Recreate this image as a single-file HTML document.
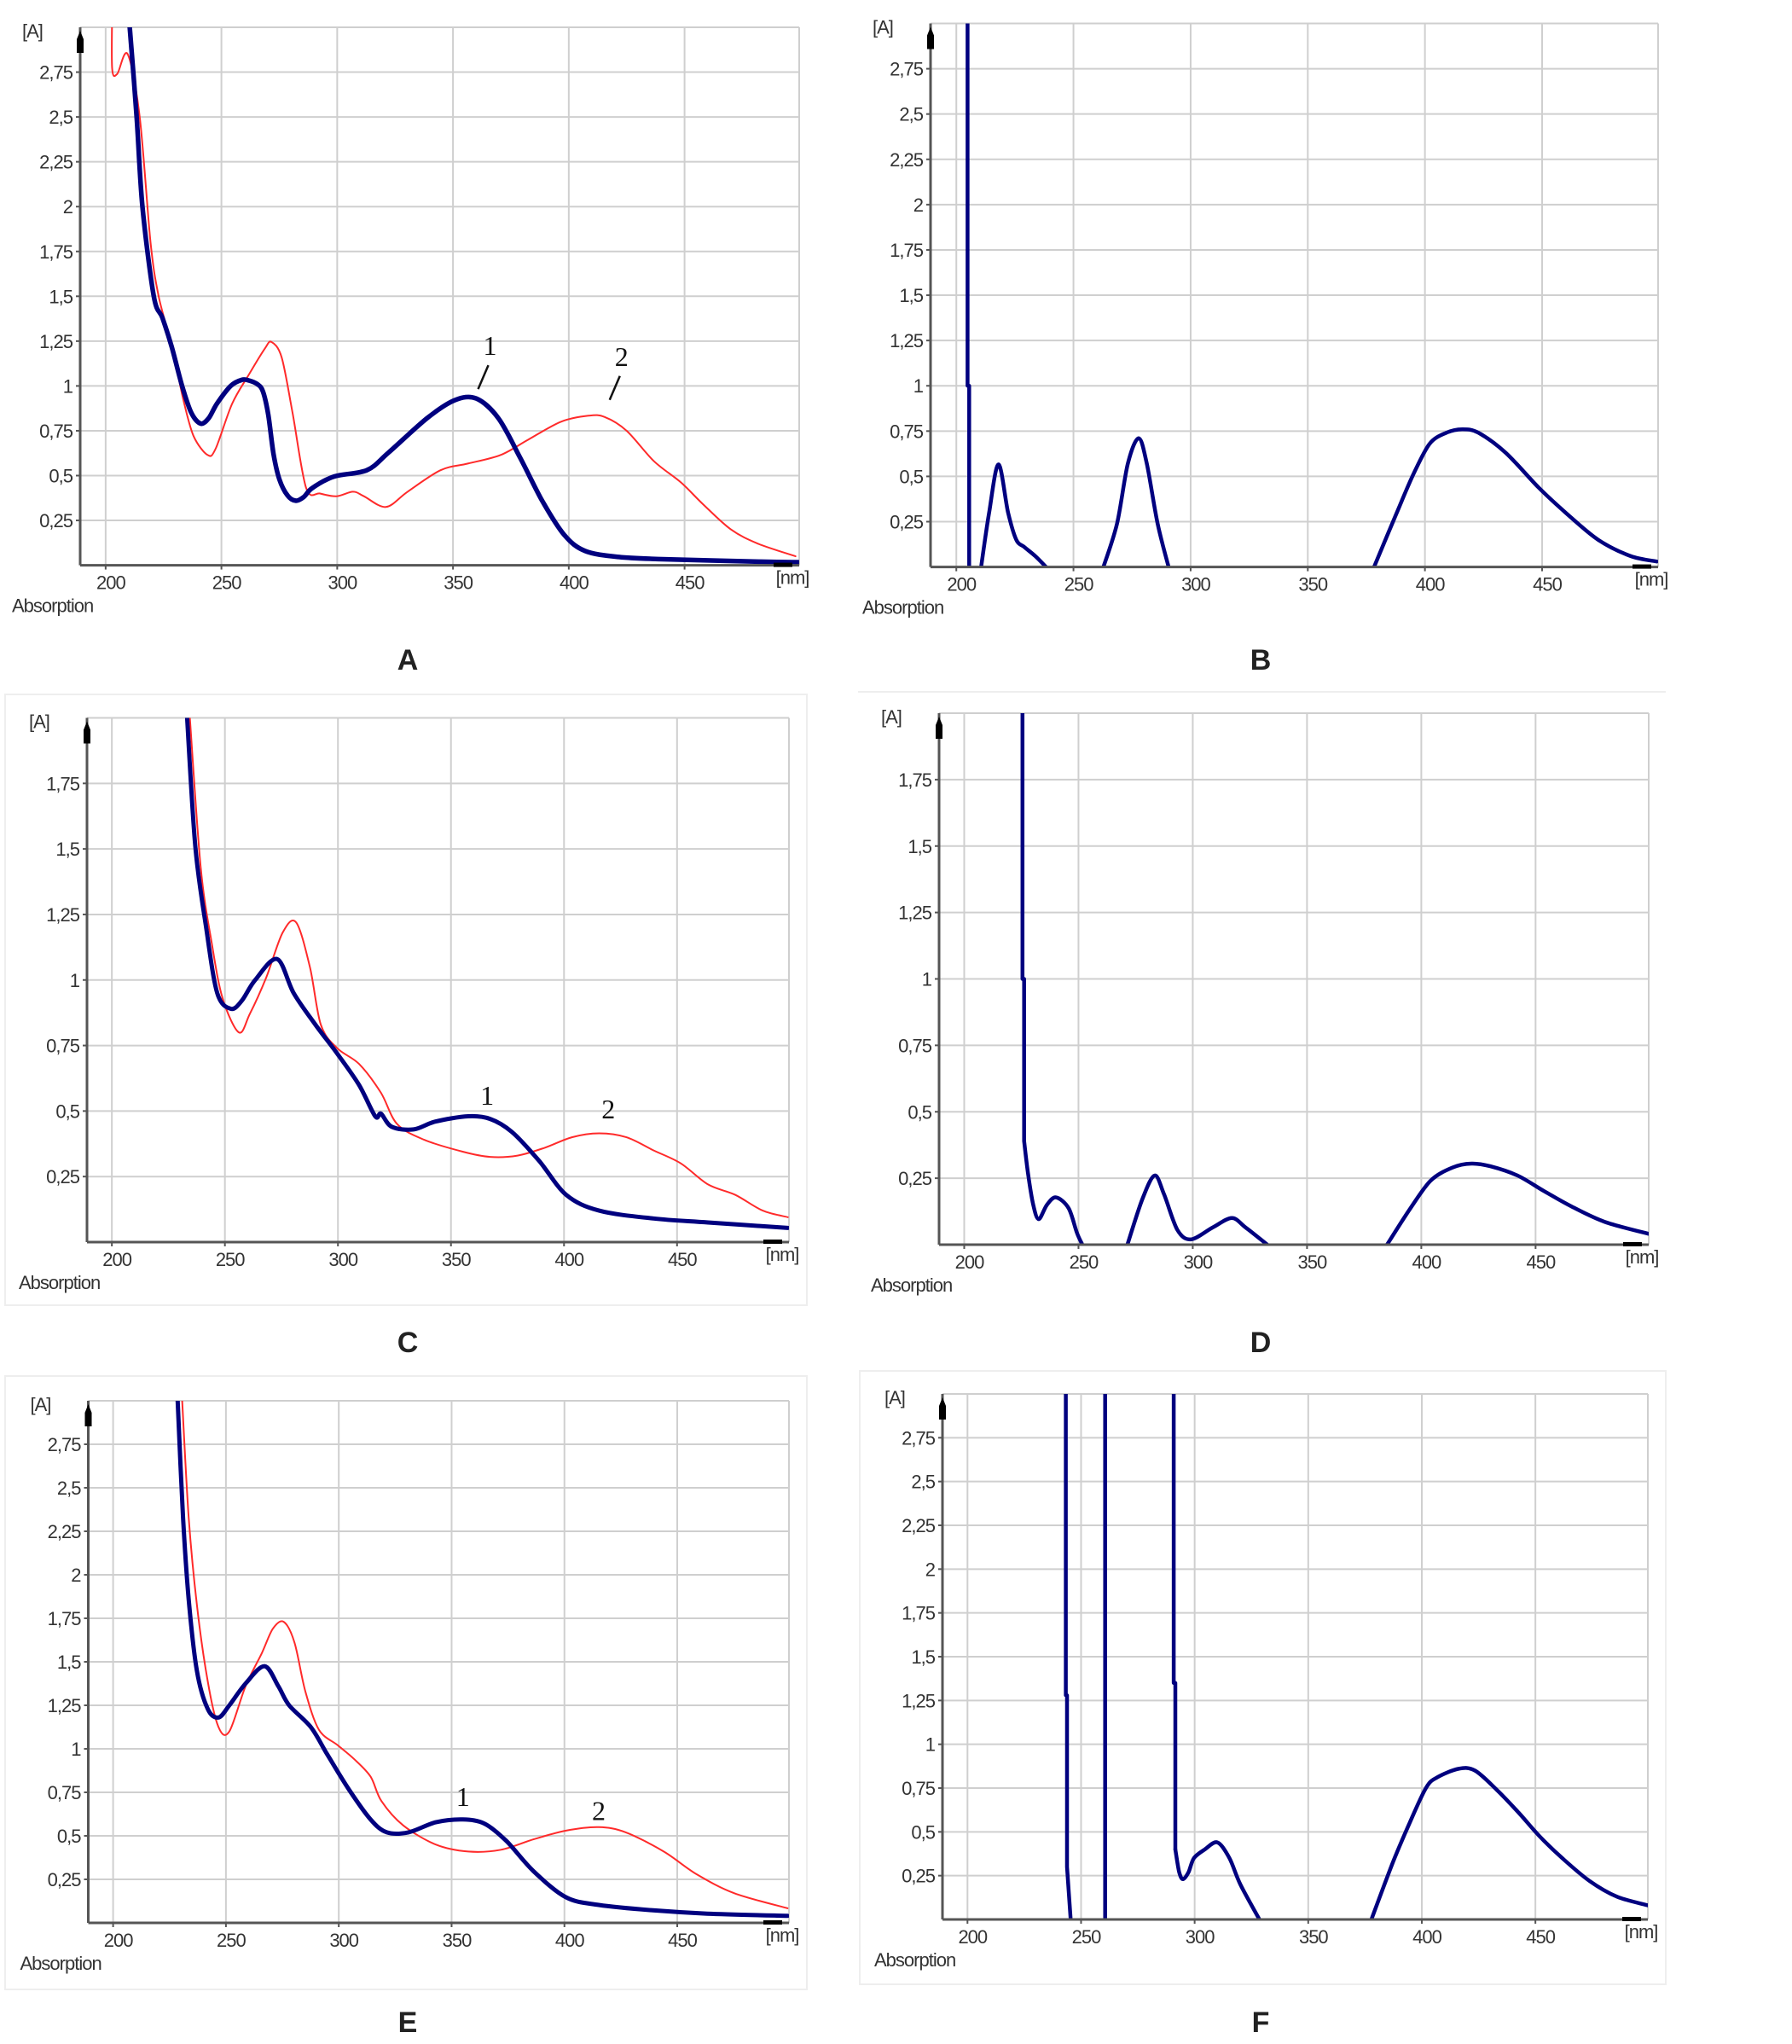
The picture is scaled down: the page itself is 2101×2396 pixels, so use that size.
<!DOCTYPE html>
<html><head><meta charset="utf-8"><style>
html,body{margin:0;padding:0;background:#fff;}
svg{display:block;}
.tk{font-family:"Liberation Sans",sans-serif;font-size:22px;fill:#333;letter-spacing:-1px;}
.pl{font-family:"Liberation Sans",sans-serif;font-size:34px;font-weight:bold;fill:#222;}
.an{font-family:"Liberation Serif",serif;font-size:32px;fill:#111;}
</style></head><body>
<svg id="fig" width="2101" height="2396" viewBox="0 0 2101 2396" xmlns="http://www.w3.org/2000/svg">
<rect x="6" y="814" width="940" height="716" fill="none" stroke="#eee" stroke-width="2"/>
<rect x="6" y="1613" width="940" height="719" fill="none" stroke="#eee" stroke-width="2"/>
<rect x="1008" y="1607" width="945" height="719" fill="none" stroke="#eee" stroke-width="2"/>
<line x1="1006" y1="811" x2="1953" y2="811" stroke="#eee" stroke-width="2"/>
</svg>
<script>
// ---- tick labels ----
const xTicks = [200, 250, 300, 350, 400, 450];
const yTicks3 = [0.25, 0.5, 0.75, 1, 1.25, 1.5, 1.75, 2, 2.25, 2.5, 2.75];
const yTicks2 = [0.25, 0.5, 0.75, 1, 1.25, 1.5, 1.75];

// ---- Panel A ----
const aBlueNm  = [210.4,213.4,215.9,220.8,224.5,228.5,233,237,241,244.5,248,254,258.8,262,265.5,267.9,270.2,272.5,275,278.5,282,285.5,289.2,298.6,312.8,322.3,338.8,350.7,360,369.6,379,388.5,398,407,421.6,440.5,483,499];
const aBlueAbs = [3.0,2.5,2.0,1.5,1.38,1.22,1.0,0.85,0.79,0.82,0.9,1.0,1.034,1.03,1.01,0.97,0.84,0.62,0.48,0.39,0.36,0.38,0.43,0.495,0.53,0.63,0.82,0.92,0.93,0.82,0.6,0.36,0.17,0.08,0.046,0.034,0.02,0.017];
const aRedNm   = [202.8,202.8,205,209.5,214.7,219.4,222.9,228.8,233.6,238,244,247.5,254.6,261.7,268.8,271.6,276,280.7,286.6,292.6,299.7,306.8,311.5,321,330.4,344.6,356.4,370.6,382.4,396.6,408.5,415.5,425,436.8,448.6,458,470,481.8,497.9];
const aRedAbs  = [3.1,2.77,2.74,2.85,2.5,1.8,1.5,1.21,0.92,0.72,0.615,0.65,0.9,1.06,1.21,1.245,1.16,0.85,0.43,0.4,0.385,0.41,0.385,0.325,0.41,0.53,0.567,0.615,0.70,0.80,0.834,0.827,0.75,0.58,0.46,0.34,0.2,0.12,0.05];

// ---- Panel B ----
const bSeg1Nm  = [204.8,204.8,205.5,205.5];
const bSeg1Abs = [3.1,1.0,1.0,-0.1];
const bSeg2Nm  = [210.6,214,218,222.1,225.6,229,233.7,238.3];
const bSeg2Abs = [0,0.3,0.566,0.3,0.15,0.11,0.06,0];
const bSeg3Nm  = [262.8,268.6,273.2,277.8,281.3,285.9,290.6];
const bSeg3Abs = [0,0.24,0.57,0.71,0.57,0.24,0];
const bSeg4Nm  = [378.3,388,395,402,409,415.9,422.9,434.5,448.4,460,473.9,487.8,498.9];
const bSeg4Abs = [0,0.3,0.51,0.68,0.74,0.76,0.74,0.63,0.44,0.3,0.15,0.06,0.03];

// ---- Panel C ----
const cBlueNm  = [233.3,236.9,241.7,246.6,252.6,257.4,263.4,273.1,280.4,290,299.6,309.3,316.5,319,323.8,333.5,343.1,357.6,367.3,377,389,401,415.5,439.6,463.7,499];
const cBlueAbs = [2.0,1.51,1.2,0.95,0.89,0.92,1.0,1.08,0.95,0.83,0.72,0.6,0.48,0.49,0.44,0.43,0.46,0.48,0.47,0.42,0.31,0.18,0.12,0.09,0.075,0.054];
const cRedNm   = [234.5,239.3,244.2,249,256.2,261,268.3,275.5,281.5,287.6,292.4,299.6,309.3,319,326.2,338.3,355.2,367.3,379.4,391.5,403.5,415.5,427.6,439.6,451.7,463.7,475.8,487.9,499];
const cRedAbs  = [2.0,1.43,1.14,0.93,0.8,0.87,1.01,1.18,1.22,1.05,0.83,0.74,0.68,0.57,0.45,0.39,0.345,0.325,0.33,0.36,0.4,0.415,0.4,0.35,0.3,0.22,0.18,0.12,0.095];

// ---- Panel D ----
const dSeg1Nm  = [225.5,225.5,226.2,226.2];
const dSeg1Abs = [2.1,1.0,1.0,0.39];
const dSeg1bNm  = [226.2,227.9,230.2,232.6,236.2,240.2,245.7,249.3,251.7];
const dSeg1bAbs = [0.39,0.27,0.15,0.096,0.15,0.178,0.137,0.045,0];
const dSeg2Nm  = [271.4,277.9,283.3,287.4,293.3,299.3,308.8,317.1,323.1,332.6];
const dSeg2Abs = [0,0.17,0.26,0.19,0.055,0.02,0.065,0.1,0.065,0];
const dSeg3Nm  = [385,394.5,404,413.6,421.9,430.2,442.1,454,465.9,480.2,499.3];
const dSeg3Abs = [0,0.127,0.24,0.29,0.305,0.295,0.26,0.2,0.143,0.086,0.041];

// ---- Panel E ----
const eBlueNm  = [228.6,231,233.5,237.1,241.9,246.7,251.5,258.7,267.1,273.2,278,287.6,294.8,304.5,314.1,321.3,330.9,343,355,364.6,374.3,386.3,400.7,415.2,439.2,463.3,498.9];
const eBlueAbs = [3.0,2.33,1.86,1.45,1.23,1.18,1.25,1.375,1.475,1.36,1.25,1.125,0.97,0.766,0.594,0.52,0.52,0.578,0.594,0.57,0.47,0.297,0.147,0.103,0.072,0.053,0.04];
const eRedNm   = [230.6,233.5,237.1,241.9,246.7,251.5,258.7,265.9,270.8,275.6,280.4,285.2,291.2,299.6,306.9,314.1,318.9,328.6,343,357.4,371.9,386.3,400.7,415.2,427.2,444,458.5,475.3,498.9];
const eRedAbs  = [3.0,2.33,1.83,1.39,1.125,1.1,1.36,1.55,1.69,1.73,1.61,1.33,1.11,1.02,0.94,0.84,0.7,0.56,0.45,0.41,0.42,0.48,0.53,0.55,0.52,0.41,0.28,0.17,0.084];

// ---- Panel F ----
const fSeg1Nm  = [243.3,243.3,243.8,243.8,245.7];
const fSeg1Abs = [3.1,1.28,1.28,0.3,-0.05];
const fSeg2Nm  = [260.6,260.6];
const fSeg2Abs = [3.1,-0.1];
const fSeg3Nm  = [290.8,290.8,291.5,291.5];
const fSeg3Abs = [3.1,1.35,1.35,0.4];
const fSeg3bNm  = [291.5,293.2,294.9,297.3,299.7,304.5,310,315.3,320.1,328.5];
const fSeg3bAbs = [0.4,0.27,0.23,0.27,0.35,0.4,0.44,0.35,0.2,0];
const fSeg4Nm  = [377.8,387.4,394.6,401.8,406.6,416.2,423.4,433,442.6,452.2,461.8,473.8,485.9,499.7];
const fSeg4Abs = [0,0.33,0.55,0.75,0.81,0.86,0.85,0.74,0.61,0.47,0.35,0.22,0.13,0.08];

// ---- annotations (nm, A) ----
const aLabelNm = [366, 422.8]; const aLabelAbs = [1.22, 1.16];
const cLabelNm = [366, 419.6]; const cLabelAbs = [0.556, 0.504];
const eLabelNm = [355, 415.2]; const eLabelAbs = [0.72, 0.64];

const NS = "http://www.w3.org/2000/svg";
const svg = document.getElementById("fig");
const BLUE = "#00007f", RED = "#ff2a2a";

function mk(tag, attrs, parent) {
  const e = document.createElementNS(NS, tag);
  for (const k in attrs) e.setAttribute(k, attrs[k]);
  (parent || svg).appendChild(e);
  return e;
}
function fmt(v) { return String(v).replace(".", ","); }

function pathD(pts, smooth) {
  let d = "M" + pts[0][0].toFixed(1) + " " + pts[0][1].toFixed(1);
  if (!smooth) {
    for (let i = 1; i < pts.length; i++) d += "L" + pts[i][0].toFixed(1) + " " + pts[i][1].toFixed(1);
    return d;
  }
  const k = 0.16;
  for (let i = 0; i < pts.length - 1; i++) {
    const p0 = pts[Math.max(0, i - 1)], p1 = pts[i], p2 = pts[i + 1], p3 = pts[Math.min(pts.length - 1, i + 2)];
    const c1x = p1[0] + (p2[0] - p0[0]) * k, c1y = p1[1] + (p2[1] - p0[1]) * k;
    const c2x = p2[0] - (p3[0] - p1[0]) * k, c2y = p2[1] - (p3[1] - p1[1]) * k;
    d += "C" + c1x.toFixed(1) + " " + c1y.toFixed(1) + " " + c2x.toFixed(1) + " " + c2y.toFixed(1) + " " + p2[0].toFixed(1) + " " + p2[1].toFixed(1);
  }
  return d;
}

function panel(id, box, ymax, yTicks, letter, letterX, letterY, series, labels) {
  const [L, T, R, B] = box;
  const xmin = 189, xmax = 499.5;
  const sx = nm => L + (nm - xmin) / (xmax - xmin) * (R - L);
  const sy = a => B - a / ymax * (B - T);
  const g = mk("g", {});
  
  
  xTicks.concat([500]).forEach(v => {
    const x = v === 500 ? R : sx(v);
    const l = mk("line", {x1: x, y1: T, x2: x, y2: B, stroke: "#cfcfcf", "stroke-width": 2}, g);
    
    
  });
  yTicks.concat([ymax]).forEach(v => {
    const y = sy(v);
    const l = mk("line", {x1: L, y1: y, x2: R, y2: y, stroke: "#cfcfcf", "stroke-width": 2}, g);
    
    
  });
  const cp = mk("clipPath", {id: "clip-" + id}, g);
  mk("rect", {x: L, y: T, width: R - L, height: B - T}, cp);
  series.forEach(s => {
    const pts = s.nm.map((n, i) => [sx(n), sy(s.abs[i])]);
    const p = mk("path", {d: pathD(pts, s.smooth), fill: "none", stroke: s.color, "stroke-width": s.w, "stroke-linejoin": "round", "stroke-linecap": "round", "clip-path": "url(#clip-" + id + ")"}, g);
    
    
  });
  const ax = mk("line", {x1: L, y1: B, x2: R, y2: B, stroke: "#555", "stroke-width": 3}, g);
  
  
  const ay = mk("line", {x1: L, y1: B, x2: L, y2: T, stroke: "#555", "stroke-width": 3}, g);
  
  
  const ua = mk("path", {d: "M" + (L - 4) + " " + (T + 30) + "L" + (L - 4) + " " + (T + 14) + "L" + L + " " + (T + 4) + "L" + (L + 4) + " " + (T + 14) + "L" + (L + 4) + " " + (T + 30) + "Z", fill: "#000"}, g);
  
  
  const ra = mk("rect", {x: R - 30, y: B - 3, width: 22, height: 5, fill: "#000"}, g);
  
  
  xTicks.forEach(v => {
    const x = sx(v);
    mk("line", {x1: x, y1: B, x2: x, y2: B + 5, stroke: "#555", "stroke-width": 2}, g);
    const t = mk("text", {x: x + 6, y: B + 28, "text-anchor": "middle", class: "tk"}, g);
    t.textContent = v;
    
    
  });
  yTicks.forEach(v => {
    const y = sy(v);
    mk("line", {x1: L - 5, y1: y, x2: L, y2: y, stroke: "#555", "stroke-width": 2}, g);
    const t = mk("text", {x: L - 9, y: y + 8, "text-anchor": "end", class: "tk"}, g);
    t.textContent = fmt(v);
    
    
  });
  const un = mk("text", {x: R - 8, y: B + 22, "text-anchor": "middle", class: "tk"}, g);
  un.textContent = "[nm]";
  
  
  const ya = mk("text", {x: L - 68, y: T + 12, class: "tk"}, g);
  ya.textContent = "[A]";
  
  
  const ab = mk("text", {x: L - 80, y: B + 55, class: "tk"}, g);
  ab.textContent = "Absorption";
  
  
  const lt = mk("text", {x: letterX, y: letterY + 12, "text-anchor": "middle", class: "pl"}, g);
  lt.textContent = letter;
  
  
  if (labels) {
    labels.nm.forEach((n, i) => {
      const t = mk("text", {x: sx(n), y: sy(labels.abs[i]) + 10, "text-anchor": "middle", class: "an"}, g);
      t.textContent = String(i + 1);
      
      
      if (labels.leader) {
        const x1 = sx(n) - 2, y1 = sy(labels.abs[i]) + 22;
        const l = mk("line", {x1: x1, y1: y1, x2: x1 - 12, y2: y1 + 28, stroke: "#111", "stroke-width": 2.5}, g);
        
        
      }
    });
  }
}

panel("a", [94, 32, 937, 662.6], 3, yTicks3, "A", 478, 773, [
  {nm: aRedNm, abs: aRedAbs, color: RED, w: 2, name: "series-2-red", smooth: true},
  {nm: aBlueNm, abs: aBlueAbs, color: BLUE, w: 5.5, name: "series-1-blue", smooth: true}
], {nm: aLabelNm, abs: aLabelAbs, leader: true});

panel("b", [1091, 27.5, 1944, 664.6], 3, yTicks3, "B", 1478, 773, [
  {nm: bSeg1Nm, abs: bSeg1Abs, color: BLUE, w: 4.5, name: "spectrum-segment", smooth: false},
  {nm: bSeg2Nm, abs: bSeg2Abs, color: BLUE, w: 4.5, name: "spectrum-segment", smooth: true},
  {nm: bSeg3Nm, abs: bSeg3Abs, color: BLUE, w: 4.5, name: "spectrum-segment", smooth: true},
  {nm: bSeg4Nm, abs: bSeg4Abs, color: BLUE, w: 4.5, name: "spectrum-segment", smooth: true}
], null);

panel("c", [102, 841.5, 925, 1456], 2, yTicks2, "C", 478, 1573, [
  {nm: cRedNm, abs: cRedAbs, color: RED, w: 2, name: "series-2-red", smooth: true},
  {nm: cBlueNm, abs: cBlueAbs, color: BLUE, w: 5, name: "series-1-blue", smooth: true}
], {nm: cLabelNm, abs: cLabelAbs, leader: false});

panel("d", [1101, 836, 1933, 1459], 2, yTicks2, "D", 1478, 1573, [
  {nm: dSeg1Nm, abs: dSeg1Abs, color: BLUE, w: 4.5, name: "spectrum-segment", smooth: false},
  {nm: dSeg1bNm, abs: dSeg1bAbs, color: BLUE, w: 4.5, name: "spectrum-segment", smooth: true},
  {nm: dSeg2Nm, abs: dSeg2Abs, color: BLUE, w: 4.5, name: "spectrum-segment", smooth: true},
  {nm: dSeg3Nm, abs: dSeg3Abs, color: BLUE, w: 4.5, name: "spectrum-segment", smooth: true}
], null);

panel("e", [103.5, 1642, 925, 2254], 3, yTicks3, "E", 478, 2370, [
  {nm: eRedNm, abs: eRedAbs, color: RED, w: 2, name: "series-2-red", smooth: true},
  {nm: eBlueNm, abs: eBlueAbs, color: BLUE, w: 5, name: "series-1-blue", smooth: true}
], {nm: eLabelNm, abs: eLabelAbs, leader: false});

panel("f", [1105, 1634, 1932, 2250], 3, yTicks3, "F", 1478, 2370, [
  {nm: fSeg1Nm, abs: fSeg1Abs, color: BLUE, w: 4.5, name: "spectrum-segment", smooth: false},
  {nm: fSeg2Nm, abs: fSeg2Abs, color: BLUE, w: 4.5, name: "spectrum-segment", smooth: false},
  {nm: fSeg3Nm, abs: fSeg3Abs, color: BLUE, w: 4.5, name: "spectrum-segment", smooth: false},
  {nm: fSeg3bNm, abs: fSeg3bAbs, color: BLUE, w: 4.5, name: "spectrum-segment", smooth: true},
  {nm: fSeg4Nm, abs: fSeg4Abs, color: BLUE, w: 4.5, name: "spectrum-segment", smooth: true}
], null);
</script>
</body></html>
